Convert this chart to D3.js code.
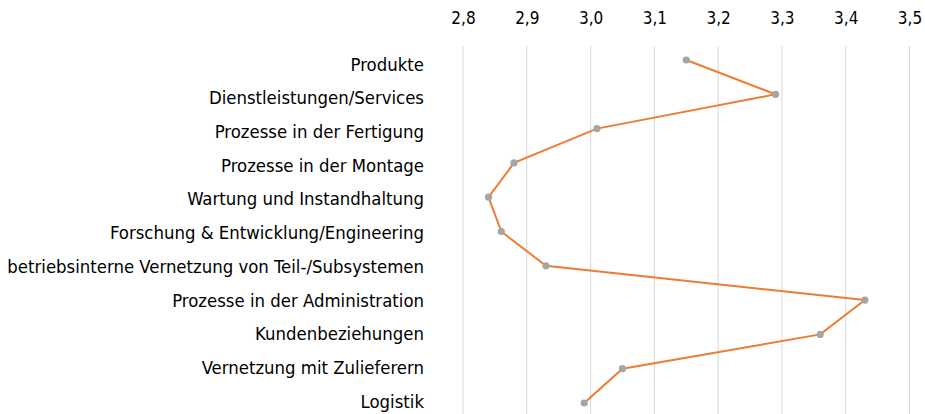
<!DOCTYPE html>
<html>
<head>
<meta charset="utf-8">
<script src="https://cdn.jsdelivr.net/npm/d3@7"></script>
<style>
  body { margin: 0; background: #fff; }
  text { font-family: "DejaVu Sans Condensed", "DejaVu Sans", sans-serif; font-stretch: condensed; fill: #000; }
</style>
</head>
<body>
<div id="root"></div>
<script>
const categories = [
  "Produkte",
  "Dienstleistungen/Services",
  "Prozesse in der Fertigung",
  "Prozesse in der Montage",
  "Wartung und Instandhaltung",
  "Forschung & Entwicklung/Engineering",
  "betriebsinterne Vernetzung von Teil-/Subsystemen",
  "Prozesse in der Administration",
  "Kundenbeziehungen",
  "Vernetzung mit Zulieferern",
  "Logistik"
];
const values = [3.15, 3.29, 3.01, 2.88, 2.84, 2.86, 2.93, 3.43, 3.36, 3.05, 2.99];
const ticks = [2.8, 2.9, 3.0, 3.1, 3.2, 3.3, 3.4, 3.5];

const width = 925, height = 414;

const svg = d3.select("#root")
  .append("svg")
  .attr("width", width)
  .attr("height", height);

const x = d3.scaleLinear().domain([2.8, 3.5]).range([463, 909.5]);
// points and labels sit on slightly different pitches in the original
const y = d3.scalePoint().domain(categories).range([60, 403]);
const yLabel = d3.scalePoint().domain(categories).range([63.5, 400.5]);

// gridlines
svg.append("g")
  .selectAll("line")
  .data(ticks)
  .enter().append("line")
    .attr("x1", d => x(d))
    .attr("x2", d => x(d))
    .attr("y1", 46)
    .attr("y2", 414)
    .attr("stroke", "#d9d9d9")
    .attr("stroke-width", 1);

// top axis labels
const xAxis = svg.append("g")
  .attr("transform", "translate(0,24)")
  .call(d3.axisTop(x).tickValues(ticks).tickSize(0).tickPadding(0)
    .tickFormat(d => d3.format(".1f")(d).replace(".", ",")));
xAxis.select(".domain").remove();
xAxis.selectAll("text")
  .attr("font-family", null)
  .style("font-size", "17px")
  .attr("dy", 0);

// category labels
const yAxis = svg.append("g")
  .attr("transform", "translate(424,0)")
  .call(d3.axisLeft(yLabel).tickSize(0).tickPadding(0));
yAxis.select(".domain").remove();
yAxis.selectAll("text")
  .attr("font-family", null)
  .style("font-size", "18.4px")
  .attr("dy", "0.36em");

const line = d3.line()
  .x(d => x(d[1]))
  .y(d => y(d[0]));

svg.append("path")
  .datum(categories.map((c, i) => [c, values[i]]))
  .attr("fill", "none")
  .attr("stroke", "#ed7d31")
  .attr("stroke-width", 2)
  .attr("d", line);

svg.append("g")
  .selectAll("circle")
  .data(categories)
  .enter().append("circle")
    .attr("cx", (d, i) => x(values[i]))
    .attr("cy", d => y(d))
    .attr("r", 3.6)
    .attr("fill", "#a5a5a5");
</script>
</body>
</html>
